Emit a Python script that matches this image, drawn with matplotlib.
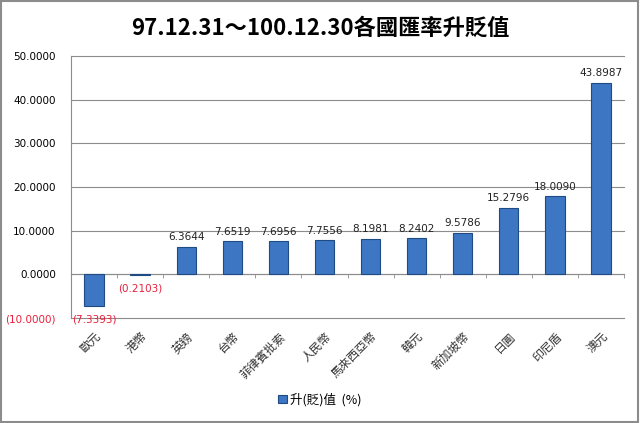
import matplotlib
matplotlib.use('Agg')
import matplotlib.pyplot as plt
import numpy as np
from matplotlib.patches import Rectangle

plt.rcParams['font.family'] = ['DejaVu Sans', 'Noto Sans CJK TC']

# 資料
currencies = ['歐元', '港幣', '英鎊', '台幣', '菲律賓批索', '人民幣', '馬來西亞幣',
              '韓元', '新加坡幣', '日圓', '印尼盾', '澳元']
values = [-7.3393, -0.2103, 6.3644, 7.6519, 7.6956, 7.7556, 8.1981,
          8.2402, 9.5786, 15.2796, 18.0090, 43.8987]
y_ticks = [-10, 0, 10, 20, 30, 40, 50]


def fmt(v):
    if v < 0:
        return '({:.4f})'.format(-v)
    return '{:.4f}'.format(v)


fig = plt.figure(figsize=(6.4, 4.23), dpi=100)
ax = fig.add_axes([0.111, 0.248, 0.864, 0.620])

x = np.arange(len(currencies))
ax.bar(x, values, width=0.42, color='#3d76c2', edgecolor='#1f4b85',
       linewidth=0.8, zorder=3, label='升(貶)值  (%)')

for xi, v in zip(x, values):
    if v >= 0:
        ax.annotate(fmt(v), (xi, v), xytext=(0, 3), textcoords='offset points',
                    ha='center', va='bottom', fontsize=7.5, color='#222222')
    else:
        ax.annotate(fmt(v), (xi, v), xytext=(0, -6), textcoords='offset points',
                    ha='center', va='top', fontsize=7.5, color='#e8203a')

ax.set_xlim(-0.5, len(currencies) - 0.5)
ax.set_ylim(-10, 50)
ax.set_yticks(y_ticks)
ax.set_yticklabels([fmt(t) for t in y_ticks], fontsize=7.5)
for lbl, t in zip(ax.get_yticklabels(), y_ticks):
    if t < 0:
        lbl.set_color('#e8203a')
ax.tick_params(axis='y', length=0, pad=11)
ax.grid(axis='y', color='#8c8c8c', linewidth=0.8, zorder=0)
for gl in ax.get_ygridlines():
    gl.set_clip_on(False)

# x 軸位於 0
ax.spines['bottom'].set_position(('data', 0))
ax.spines['bottom'].set_color('#8c8c8c')
ax.spines['left'].set_color('#8c8c8c')
ax.spines['top'].set_visible(False)
ax.spines['right'].set_visible(False)
ax.set_xticks(x)
ax.set_xticks(np.arange(len(currencies) + 1) - 0.5, minor=True)
ax.set_xticklabels(currencies, rotation=45, ha='right', rotation_mode='anchor',
                   fontsize=8.5, color='#333333', family='Noto Sans CJK TC')
ax.tick_params(axis='x', which='major', length=0, pad=40)
ax.tick_params(axis='x', which='minor', length=3, color='#8c8c8c', direction='out')

fig.suptitle('97.12.31～100.12.30各國匯率升貶值', y=0.96, fontsize=16,
             fontweight='bold', family='Noto Sans CJK TC')

fig.legend(loc='center', bbox_to_anchor=(0.5, 0.055), frameon=False,
           handlelength=0.7, handleheight=0.7, handletextpad=0.3,
           prop={'family': ['Noto Sans CJK TC'], 'size': 9})

fig.patches.append(Rectangle((0.002, 0.003), 0.995, 0.994, transform=fig.transFigure,
                             fill=False, edgecolor='#8c8c8c', linewidth=1.5))

fig.savefig('out.png', dpi=100)
